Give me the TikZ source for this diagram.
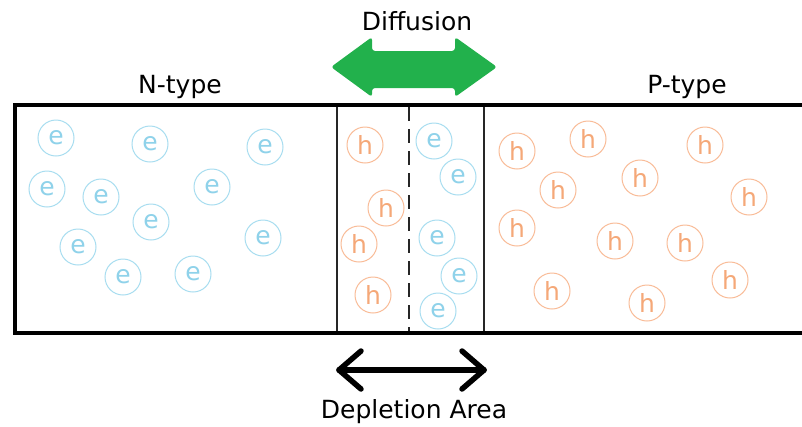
\documentclass[tikz,border=0pt]{standalone}
\usepackage{fontspec}
\setmainfont{DejaVu Sans}
\definecolor{elecline}{HTML}{A8DDF0}
\definecolor{electext}{HTML}{8FD2EA}
\definecolor{holeline}{HTML}{F9BC98}
\definecolor{holetext}{HTML}{F5A878}
\definecolor{diffgreen}{HTML}{22B14C}
\tikzset{
  electron/.style={circle, draw=elecline, line width=1pt, minimum size=36pt, inner sep=0pt,
    text=electext, font=\fontsize{25}{25}\selectfont},
  hole/.style={circle, draw=holeline, line width=1pt, minimum size=36pt, inner sep=0pt,
    text=holetext, font=\fontsize{25}{25}\selectfont},
  label/.style={font=\fontsize{25}{25}\selectfont, anchor=base, inner sep=0pt},
  border/.style={line width=4pt, black},
  divider/.style={line width=1.5pt, black!85},
}
\begin{document}
\begin{tikzpicture}[x=1pt,y=-1pt]
\useasboundingbox (0,0) rectangle (802,426);
\clip (0,0) rectangle (802,426);
\fill[white] (0,0) rectangle (802,426);

% crystal outline (open to the right)
\draw[border] (830,105) -- (15,105) -- (15,333) -- (830,333);

% depletion region boundaries and junction
\draw[divider] (337,107) -- (337,331);
\draw[divider] (484,107) -- (484,331);
\draw[divider, dash pattern=on 14pt off 8pt] (409,107) -- (409,331);

% titles
\node[label] (ntype) at (180,93) {N-type};
\node[label] (ptype) at (687,93) {P-type};
\node[label] (diff) at (417,30) {Diffusion};
\node[label] (depl) at (414,418) {Depletion Area};

% diffusion double arrow
\fill[diffgreen, rounded corners=3pt]
  (331,67) -- (372,37) -- (372,51) -- (455,51) -- (455,37) -- (497,67)
  -- (455,97) -- (455,88) -- (372,88) -- (372,97) -- cycle;

% depletion width arrow
\coordinate (dl) at (339,370);
\coordinate (dr) at (484,370);
\draw[line width=5.5pt, line cap=round, line join=round] (dl) -- (dr);
\draw[line width=5.5pt, line cap=round, line join=round] (361,351) -- (dl) -- (361,389);
\draw[line width=5.5pt, line cap=round, line join=round] (462,351) -- (dr) -- (462,389);

% electrons in the n region
\foreach \x/\y [count=\i] in {56/138, 150/144, 265/147, 47/189, 101/197, 212/187,
    151/222, 78/247, 263/238, 123/277, 193/274}
  \node[electron] (n\i) at (\x,\y) {e};

% carriers in the depletion region
\foreach \x/\y [count=\i] in {365/145, 386/208, 359/244, 373/295}
  \node[hole] (dh\i) at (\x,\y) {h};
\foreach \x/\y [count=\i] in {434/141, 458/177, 437/238, 459/276, 438/311}
  \node[electron] (de\i) at (\x,\y) {e};

% holes in the p region
\foreach \x/\y [count=\i] in {517/151, 588/139, 705/145, 558/190, 640/178, 749/197,
    517/228, 615/241, 685/243, 730/280, 552/291, 647/303}
  \node[hole] (p\i) at (\x,\y) {h};
\end{tikzpicture}
\end{document}
